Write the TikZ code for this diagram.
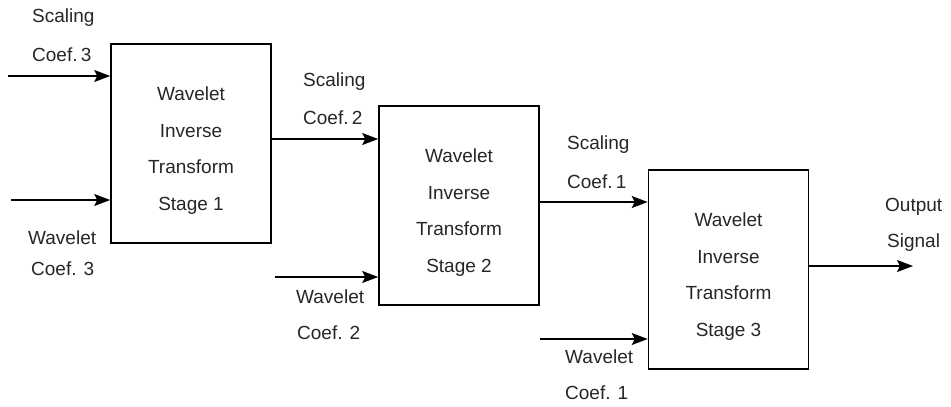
\documentclass[tikz,border=0pt]{standalone}
\usepackage{fontspec}
\setmainfont{Liberation Sans}
\usetikzlibrary{arrows.meta}
\begin{document}
\begin{tikzpicture}[x=1pt,y=-1pt,
  stagebox/.style={draw,line width=1.6pt,minimum width=160pt,minimum height=199pt,inner sep=0pt},
  stagetext/.style={inner sep=0pt,align=center,font=\fontsize{19}{36.5}\selectfont,text=black!85},
  lbl/.style={anchor=west,inner sep=0pt,font=\fontsize{19}{20}\selectfont,text=black!85},
  flow/.style={line width=1.5pt,-{Stealth[length=16pt,width=12pt,inset=3pt]}}]
\useasboundingbox (0,0) rectangle (951,407);
% boxes
\node[stagebox] (b1) at (191,143.5) {};
\node[stagebox] (b2) at (459,205.5) {};
\node[stagebox] (b3) at (728.5,269.5) {};
\node[stagetext] (t1) at ([yshift=-7pt]b1.center) {Wavelet\\Inverse\\Transform\\Stage 1};
\node[stagetext] (t2) at ([yshift=-7pt]b2.center) {Wavelet\\Inverse\\Transform\\Stage 2};
\node[stagetext] (t3) at ([yshift=-7pt]b3.center) {Wavelet\\Inverse\\Transform\\Stage 3};
% free ends
\coordinate (s3) at (8,76);
\coordinate (w3) at (11,200);
\coordinate (w2) at (275,277);
\coordinate (w1) at (540,339);
\coordinate (out) at (913,266);
% arrows
\draw[flow] (s3) -- (s3 -| b1.west);
\draw[flow] (w3) -- (w3 -| b1.west);
\draw[flow] (b1.east |- 0,139) -- (b2.west |- 0,139);
\draw[flow] (w2) -- (w2 -| b2.west);
\draw[flow] (b2.east |- 0,202) -- (b3.west |- 0,202);
\draw[flow] (w1) -- (w1 -| b3.west);
\draw[flow] (b3.east |- out) -- (out);
% labels
\node[lbl] (l1) at (32,18) {Scaling};
\node[lbl] (l2) at (32,55) {Coef.\,3};
\node[lbl] (l3) at (28,238) {Wavelet};
\node[lbl] (l4) at (31,269) {Coef. 3};
\node[lbl] (l5) at (303,82) {Scaling};
\node[lbl] (l6) at (303,118) {Coef.\,2};
\node[lbl] (l7) at (296,297) {Wavelet};
\node[lbl] (l8) at (297,333) {Coef. 2};
\node[lbl] (l9) at (567,145) {Scaling};
\node[lbl] (l10) at (567,182) {Coef.\,1};
\node[lbl] (l11) at (565,357) {Wavelet};
\node[lbl] (l12) at (565,393) {Coef. 1};
\node[lbl] (l13) at (885,207) {Output};
\node[lbl] (l14) at (887,243) {Signal};
\end{tikzpicture}
\end{document}
